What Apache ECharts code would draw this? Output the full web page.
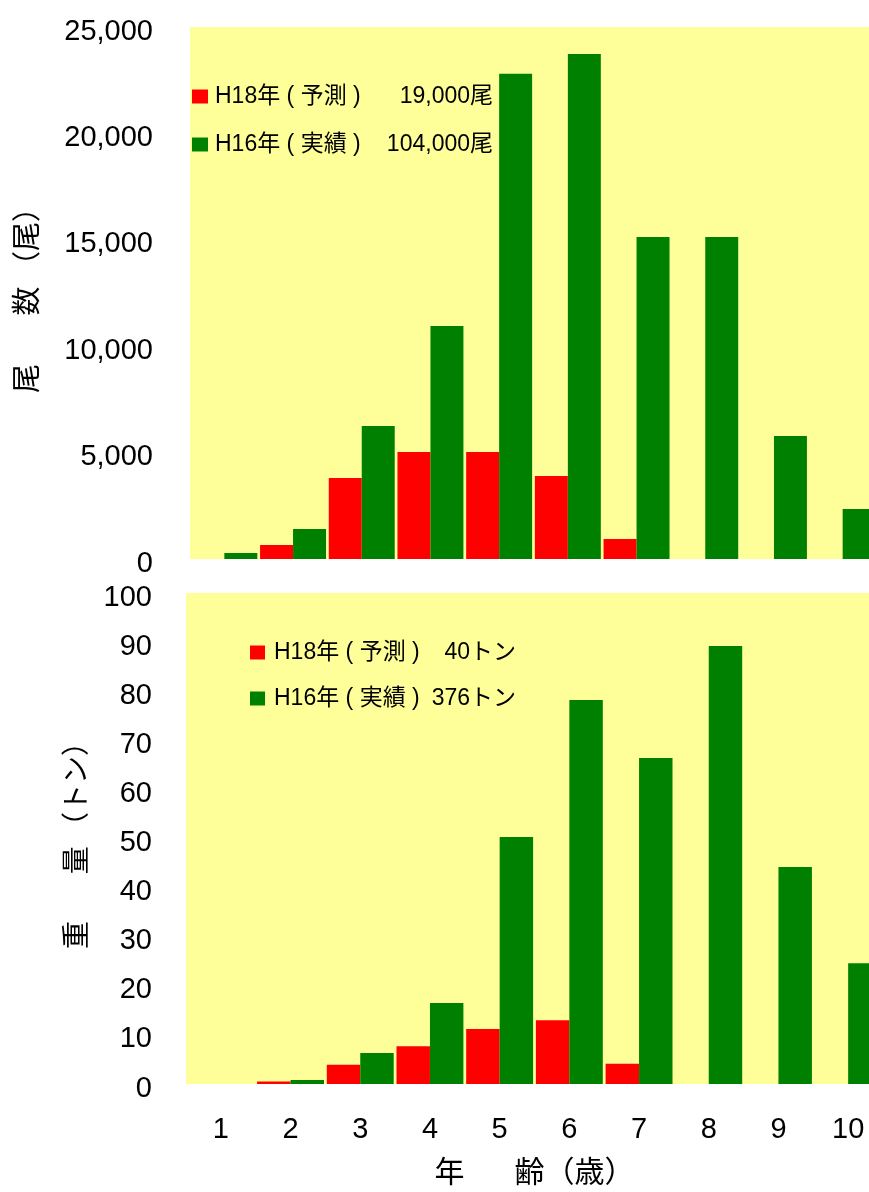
<!DOCTYPE html>
<html>
<head>
<meta charset="utf-8">
<script src="https://cdn.jsdelivr.net/npm/echarts@6/dist/echarts.min.js"></script>
<style>
  html, body { margin: 0; padding: 0; background: #fff; }
  #chart { width: 869px; height: 1192px; }
</style>
</head>
<body>
<div id="chart"></div>
<script>
// 年齢（歳）
var ages = ['1', '2', '3', '4', '5', '6', '7', '8', '9', '10'];

// 尾数（尾）
var count_h18 = [0, 660, 3810, 5030, 5030, 3900, 940, 0, 0, 0];
var count_h16 = [280, 1410, 6250, 10950, 22800, 23730, 15130, 15130, 5780, 2350];

// 重量（トン）
var weight_h18 = [0, 0.5, 3.9, 7.7, 11.2, 13.0, 4.1, 0, 0, 0];
var weight_h16 = [0, 0.8, 6.3, 16.5, 50.3, 78.2, 66.4, 89.2, 44.2, 24.6];

// 凡例
var legend_top = {
  top18: ['H18年 ( 予測 )', '19,000尾'],
  top16: ['H16年 ( 実績 )', '104,000尾']
};
var legend_bot = {
  bot18: ['H18年 ( 予測 )', '40トン'],
  bot16: ['H16年 ( 実績 )', '376トン']
};

var num_font = 'Liberation Sans, Arial, sans-serif';
var jp_font = 'Noto Sans CJK JP';
var mix_font = 'Liberation Sans, Noto Sans CJK JP, sans-serif';

function legend_fmt(map) {
  return function(name) {
    return '{a|' + map[name][0] + '}{b|' + map[name][1] + '}';
  };
}

// 目盛りラベルを少し下げる
var tick_rich = {
  v: { fontSize: 29, fontFamily: num_font, color: '#000', padding: [9, 0, 0, 0] }
};

var myChart = echarts.init(document.getElementById('chart'));

var option = {
  animation: false,
  grid: [{
    left: 190, top: 27, height: 532, width: 687,
    outerBoundsMode: 'none',
    show: true, backgroundColor: '#ffff99', borderWidth: 0
  }, {
    left: 186, top: 593, height: 491, width: 697,
    outerBoundsMode: 'none',
    show: true, backgroundColor: '#ffff99', borderWidth: 0
  }],
  legend: [{
    data: ['top18', 'top16'],
    orient: 'vertical',
    left: 187, top: 80,
    itemWidth: 16, itemHeight: 14, itemGap: 25,
    icon: 'rect',
    formatter: legend_fmt(legend_top),
    textStyle: {
      color: '#000', fontSize: 23, fontFamily: mix_font,
      rich: {
        a: { fontSize: 23, fontFamily: mix_font, width: 160, lineHeight: 24, padding: [0, 0, 0, 2] },
        b: { fontSize: 23, fontFamily: mix_font, width: 118, align: 'right', lineHeight: 24 }
      }
    }
  }, {
    data: ['bot18', 'bot16'],
    orient: 'vertical',
    left: 245, top: 636,
    itemWidth: 15, itemHeight: 14, itemGap: 23,
    icon: 'rect',
    formatter: legend_fmt(legend_bot),
    textStyle: {
      color: '#000', fontSize: 23, fontFamily: mix_font,
      rich: {
        a: { fontSize: 23, fontFamily: mix_font, width: 146, lineHeight: 24, padding: [0, 0, 0, 4] },
        b: { fontSize: 23, fontFamily: mix_font, width: 96, align: 'right', lineHeight: 24 }
      }
    }
  }],
  xAxis: [{
    gridIndex: 0,
    type: 'category',
    data: ages,
    axisLine: { show: false },
    axisTick: { show: false },
    axisLabel: { show: false }
  }, {
    gridIndex: 1,
    type: 'category',
    data: ages,
    axisLine: { show: false },
    axisTick: { show: false },
    axisLabel: {
      color: '#000', fontSize: 29, margin: 31,
      fontFamily: 'Liberation Sans Narrow, Liberation Sans, sans-serif'
    },
    name: '年　   齢（歳）',
    nameLocation: 'middle',
    nameGap: 72,
    nameTextStyle: { color: '#000', fontSize: 30, fontFamily: jp_font }
  }],
  yAxis: [{
    gridIndex: 0,
    type: 'value',
    min: 0, max: 25000, interval: 5000,
    splitLine: { show: false },
    axisLine: { show: false },
    axisTick: { show: false },
    axisLabel: {
      margin: 37,
      formatter: function(v) { return '{v|' + v.toLocaleString('en-US') + '}'; },
      rich: tick_rich
    },
    name: '尾　   数 （尾）',
    nameLocation: 'middle',
    nameRotate: 90,
    nameGap: 150,
    nameTextStyle: { color: '#000', fontSize: 29, fontFamily: jp_font }
  }, {
    gridIndex: 1,
    type: 'value',
    min: 0, max: 100, interval: 10,
    splitLine: { show: false },
    axisLine: { show: false },
    axisTick: { show: false },
    axisLabel: {
      margin: 34,
      formatter: function(v) { return '{v|' + v + '}'; },
      rich: tick_rich
    },
    name: '重　   量 （トン）',
    nameLocation: 'middle',
    nameRotate: 90,
    nameGap: 97,
    nameTextStyle: { color: '#000', fontSize: 28, fontFamily: jp_font }
  }],
  series: [{
    name: 'top18', type: 'bar', xAxisIndex: 0, yAxisIndex: 0,
    data: count_h18, itemStyle: { color: '#ff0000' },
    barGap: '0%', barCategoryGap: '4%'
  }, {
    name: 'top16', type: 'bar', xAxisIndex: 0, yAxisIndex: 0,
    data: count_h16, itemStyle: { color: '#008000' },
    barGap: '0%', barCategoryGap: '4%'
  }, {
    name: 'bot18', type: 'bar', xAxisIndex: 1, yAxisIndex: 1,
    data: weight_h18, itemStyle: { color: '#ff0000' },
    barGap: '0%', barCategoryGap: '4%'
  }, {
    name: 'bot16', type: 'bar', xAxisIndex: 1, yAxisIndex: 1,
    data: weight_h16, itemStyle: { color: '#008000' },
    barGap: '0%', barCategoryGap: '4%'
  }]
};

myChart.setOption(option);
</script>
</body>
</html>
